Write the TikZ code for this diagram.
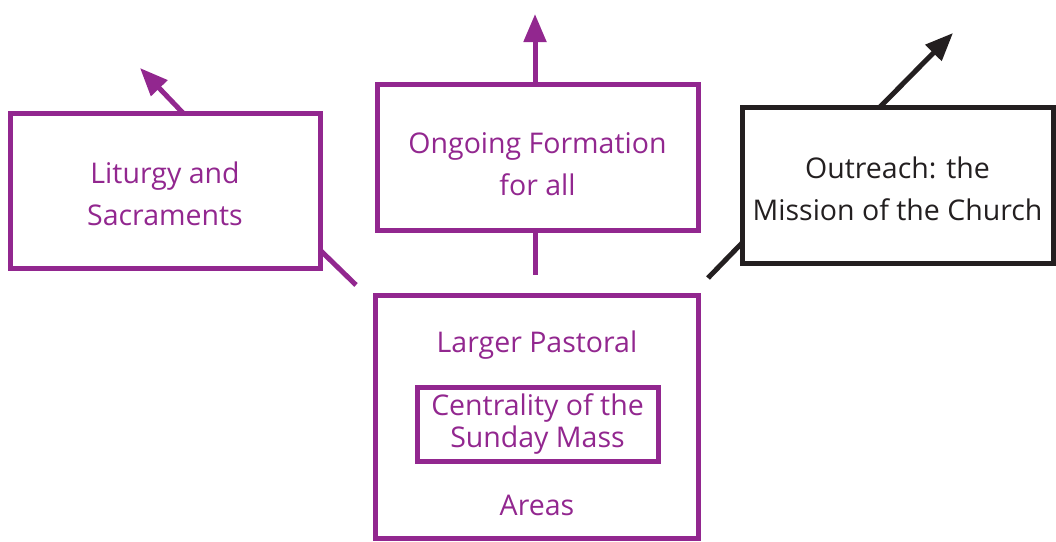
\documentclass[tikz,border=0pt]{standalone}
\usepackage{fontspec}
\setmainfont{Open Sans}
\usetikzlibrary{arrows.meta,calc}
\definecolor{pur}{HTML}{92278F}
\definecolor{blk}{HTML}{231F20}
\begin{document}
\begin{tikzpicture}[x=1pt,y=-1pt,
  box/.style={draw=pur,line width=5pt,inner sep=0pt,outer sep=0pt},
  txt/.style={text=pur,align=center,inner sep=0pt,font=\fontsize{28.5}{42}\selectfont},
  lbl/.style={text=pur,font=\fontsize{28.5}{32}\selectfont,align=center,inner sep=0pt},
  arr/.style={line width=5pt,-{Triangle[length=28pt,width=22pt]}},
  ln/.style={line width=5pt}]
\useasboundingbox (0,0) rectangle (1056,541);
\node[box,minimum width=310pt,minimum height=155pt] (lit) at (165,190.5) {};
\node[box,minimum width=321pt,minimum height=146pt] (ong) at (537.5,157) {};
\node[box,draw=blk,minimum width=311pt,minimum height=156pt] (out) at (897.5,185) {};
\node[box,minimum width=323pt,minimum height=243pt] (cen) at (536.5,416.5) {};
\node[box,minimum width=241pt,minimum height=74pt] (inn) at (537.5,424) {};
\node[txt] (litt) at ($(lit.center)+(0,3)$) {Liturgy and\\Sacraments};
\node[txt] (ongt) at ($(ong.center)+(0,7)$) {Ongoing Formation\\for all};
\node[txt,text=blk] (outt) at ($(out.center)+(0,4)$) {Outreach: the\\Mission of the Church};
\node[lbl] (innt) at (inn.center) {Centrality of the\\Sunday Mass};
\node[lbl] (lp) at (537,345) {Larger Pastoral};
\node[lbl] (ar) at (537,505) {Areas};
\coordinate (tl) at (140,68);
\coordinate (to) at (535,14);
\coordinate (tr) at (953,33);
\coordinate (el) at (356,285);
\coordinate (eo) at (535,275);
\coordinate (er) at (708,278);
\draw[arr,pur] ([xshift=173pt]lit.north west) -- (tl);
\draw[arr,pur] ([xshift=158pt]ong.north west) -- (to);
\draw[arr,blk] ([xshift=138pt]out.north west) -- (tr);
\draw[ln,pur] ([yshift=18pt]lit.south east) -- (el);
\draw[ln,pur] ([xshift=158pt]ong.south west) -- (eo);
\draw[ln,blk] ([yshift=20pt]out.south west) -- (er);
\end{tikzpicture}
\end{document}
